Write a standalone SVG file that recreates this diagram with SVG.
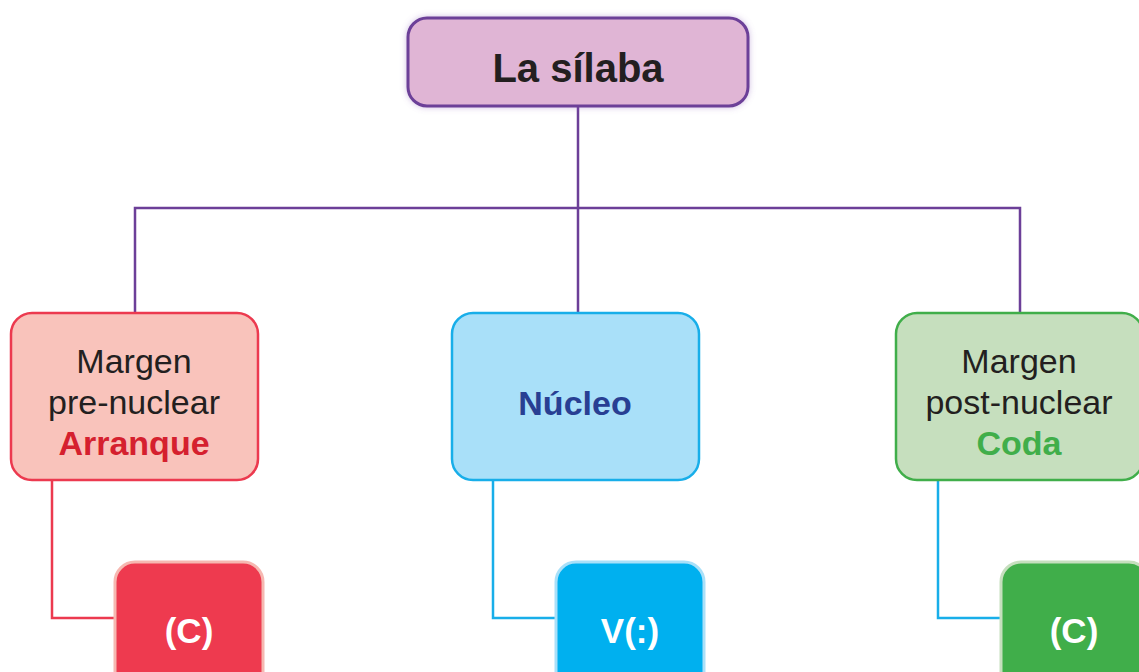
<svg xmlns="http://www.w3.org/2000/svg" width="1139" height="672" viewBox="0 0 1139 672">
<defs>
<filter id="glow" x="-10%" y="-30%" width="120%" height="160%">
<feGaussianBlur in="SourceAlpha" stdDeviation="3"/>
<feFlood flood-color="#6c3f98" flood-opacity="0.35"/>
<feComposite operator="in" in2="SourceGraphic"/>
</filter>
<filter id="sh" x="-10%" y="-30%" width="120%" height="160%">
<feGaussianBlur in="SourceAlpha" stdDeviation="3" result="b"/>
<feFlood flood-color="#8c5fb8" flood-opacity="0.4"/>
<feComposite operator="in" in2="b" result="s"/>
<feMerge><feMergeNode in="s"/><feMergeNode in="SourceGraphic"/></feMerge>
</filter>
</defs>
<style>
text{font-family:"Liberation Sans",Arial,sans-serif;text-anchor:middle}
.reg{font-size:34px;fill:#231f20}
.bold{font-weight:bold;font-size:34px}
.w{font-weight:bold;font-size:35px;fill:#ffffff}
.conn{fill:none;stroke-width:2.5}
</style>
<rect width="1139" height="672" fill="#ffffff"/>
<g id="connectors">
<path class="conn" stroke="#6c3f98" d="M578 106V313M135 313V208H1020V313"/>
<path class="conn" stroke="#ec3a4f" d="M52 480V618H116"/>
<path class="conn" stroke="#18aee9" d="M493 480V618H556"/>
<path class="conn" stroke="#18aee9" d="M938 480V618H1001"/>
</g>
<g id="silaba">
<rect x="408" y="18" width="340" height="88" rx="19" fill="#e0b5d5" stroke="#6c3f98" stroke-width="3" filter="url(#sh)"/>
<text x="578" y="82" style="font-weight:bold;font-size:40px;fill:#231f20">La sílaba</text>
</g>
<g id="arranque">
<rect x="11" y="313" width="247" height="167" rx="21" fill="#f9c3bb" stroke="#ec3a4f" stroke-width="2.5"/>
<text class="reg" x="134" y="373">Margen</text>
<text class="reg" x="134" y="414">pre-nuclear</text>
<text class="bold" x="134" y="455" fill="#d5202e">Arranque</text>
</g>
<g id="nucleo">
<rect x="452" y="313" width="247" height="167" rx="21" fill="#a9e0f9" stroke="#18aee9" stroke-width="2.5"/>
<text class="bold" x="575" y="415" fill="#283f93">Núcleo</text>
</g>
<g id="coda">
<rect x="896" y="313" width="247" height="167" rx="21" fill="#c6dfbe" stroke="#40ae4a" stroke-width="2.5"/>
<text class="reg" x="1019" y="373">Margen</text>
<text class="reg" x="1019" y="414">post-nuclear</text>
<text class="bold" x="1019" y="455" fill="#40ae4a">Coda</text>
</g>
<g id="c-arranque">
<rect x="115" y="562" width="148" height="130" rx="20" fill="#ee3a4f" stroke="#f6b8b1" stroke-width="3"/>
<text class="w" x="189" y="643">(C)</text>
</g>
<g id="v-nucleo">
<rect x="556" y="562" width="148" height="130" rx="20" fill="#00b0ef" stroke="#a9e0f9" stroke-width="3"/>
<text class="w" x="630" y="643">V(:)</text>
</g>
<g id="c-coda">
<rect x="1001" y="562" width="148" height="130" rx="20" fill="#40ae4a" stroke="#c6dfbe" stroke-width="3"/>
<text class="w" x="1074" y="643">(C)</text>
</g>
</svg>
